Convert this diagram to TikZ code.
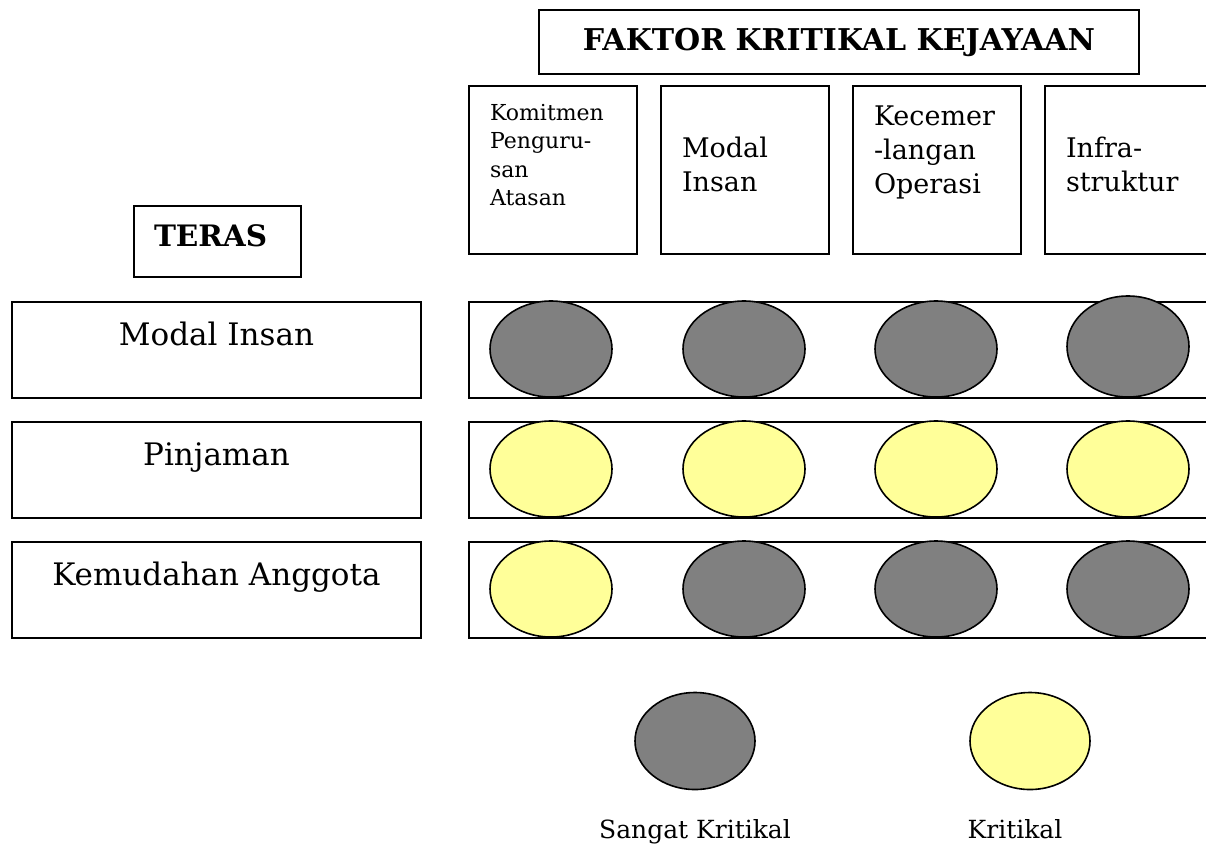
\documentclass[tikz,border=0pt]{standalone}
\usepackage{fontspec}
\setmainfont{DejaVu Serif}
\usepackage{xcolor}
\usepackage{tikz}
\usetikzlibrary{shapes.geometric,positioning}

\definecolor{sangat}{HTML}{808080}
\definecolor{kritikal}{HTML}{FFFF99}

\begin{document}
\begin{tikzpicture}[x=1pt, y=-1pt,
    box/.style={rectangle, draw, line width=2pt, inner sep=0pt},
    colbox/.style={box, minimum width=168pt, minimum height=168pt, inner xsep=21pt, text width=126pt, align=left, anchor=north west},
    rowbox/.style={box, minimum width=409pt, anchor=north west, text height=43pt, text depth=53pt,
        font=\fontsize{31}{36}\selectfont},
    frame/.style={box, minimum width=780pt, minimum height=96pt, anchor=north west},
    dot/.style={ellipse, draw, line width=1.6pt, inner sep=0pt, minimum width=122pt, minimum height=96pt},
    grey/.style={dot, fill=sangat},
    yellow/.style={dot, fill=kritikal}]
    \useasboundingbox (0,0) rectangle (1206,844);
    \clip (0,0) rectangle (1206,844);

    % tajuk
    \node [box, minimum width=600pt, minimum height=64pt, font=\fontsize{30}{34}\selectfont\bfseries] (judul) at (839,42) {FAKTOR KRITIKAL KEJAYAAN};

    % faktor
    \node [colbox, text height=34pt, text depth=134pt, font=\fontsize{22}{28.5}\selectfont] (komitmen) at (468,85) {Komitmen\\Penguru-\\san\\Atasan};
    \node [colbox, text height=71pt, text depth=97pt, font=\fontsize{27}{34}\selectfont] (modal) at (660,85) {Modal\\Insan};
    \node [colbox, text height=39pt, text depth=129pt, font=\fontsize{27}{34}\selectfont] (kecemerlangan) at (852,85) {Kecemer\\-langan\\Operasi};
    \node [colbox, text height=71pt, text depth=97pt, font=\fontsize{27}{34}\selectfont] (infra) at (1044,85) {Infra-\\struktur};

    % teras
    \node [box, inner xsep=20pt, text width=127pt, align=left, text height=40pt, text depth=31pt, font=\fontsize{29.5}{32}\selectfont\bfseries] (teras) at (133,205) [anchor=north west] {TERAS};
    \node [rowbox] (t1) at (11,301) {Modal Insan};
    \node [rowbox] (t2) at (11,421) {Pinjaman};
    \node [rowbox] (t3) at (11,541) {Kemudahan Anggota};

    \node [frame] (f1) at (468,301) {};
    \node [frame] (f2) at (468,421) {};
    \node [frame] (f3) at (468,541) {};

    % penilaian
    \node [grey] (a1) at (551,349) {};
    \node [grey] (b1) at (744,349) {};
    \node [grey] (c1) at (936,349) {};
    \node [grey, minimum height=101pt] (d1) at (1128,346.5) {};
    \node [yellow] (a2) at (551,469) {};
    \node [yellow] (b2) at (744,469) {};
    \node [yellow] (c2) at (936,469) {};
    \node [yellow] (d2) at (1128,469) {};
    \node [yellow] (a3) at (551,589) {};
    \node [grey] (b3) at (744,589) {};
    \node [grey] (c3) at (936,589) {};
    \node [grey] (d3) at (1128,589) {};

    % petunjuk
    \node [grey, minimum width=120pt, minimum height=97pt] (petunjuk1) at (695,741) {};
    \node [yellow, minimum width=120pt, minimum height=97pt] (petunjuk2) at (1030,741) {};
    \node [font=\fontsize{25}{28}\selectfont, anchor=base] (sangatkritikal) at (695,838) {Sangat Kritikal};
    \node [font=\fontsize{25}{28}\selectfont, anchor=base] (kritikal) at (1015,838) {Kritikal};
\end{tikzpicture}
\end{document}
